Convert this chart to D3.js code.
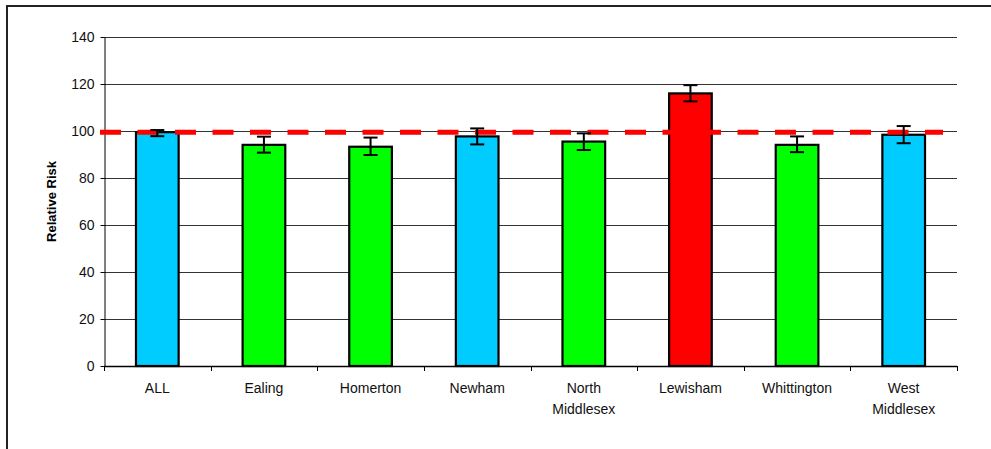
<!DOCTYPE html>
<html>
<head>
<meta charset="utf-8">
<script src="https://cdn.jsdelivr.net/npm/d3@7"></script>
<style>
  body { margin: 0; background: #fff; }
  svg { display: block; font-family: "Liberation Sans", Arial, sans-serif; }
</style>
</head>
<body>
<svg id="chart"></svg>
<script>
// data
const hospitals = ["ALL", "Ealing", "Homerton", "Newham", "North Middlesex", "Lewisham", "Whittington", "West Middlesex"];
const relativeRisk = [99.5, 94.1, 93.3, 97.7, 95.5, 116.0, 94.1, 98.4];
const ciLower = [97.8, 90.8, 89.8, 94.3, 91.9, 112.6, 91.0, 94.8];
const ciUpper = [100.4, 97.6, 97.2, 101.1, 99.0, 119.5, 97.7, 102.1];
const barGroup = ["blue", "green", "green", "blue", "green", "red", "green", "blue"];
const yTicks = [0, 20, 40, 60, 80, 100, 120, 140];
const referenceLevel = 99.5;

const width = 991, height = 449;
const margin = { top: 37, right: 34, bottom: 83, left: 104 };

const svg = d3.select("#chart")
    .attr("width", width)
    .attr("height", height);

// outer chart frame (cut off at right/bottom like the original)
svg.append("path")
    .attr("d", `M7,${height + 2}V6H${width + 2}`)
    .attr("fill", "none")
    .attr("stroke", "#222")
    .attr("stroke-width", 2);

const x = d3.scaleBand()
    .domain(hospitals)
    .range([margin.left, width - margin.right])
    .paddingInner(0.6)
    .paddingOuter(0.3);

// band boundaries for ticks
const step = x.step();
const x0 = margin.left;

const y = d3.scaleLinear()
    .domain([0, 140])
    .range([height - margin.bottom, margin.top]);

const color = d3.scaleOrdinal()
    .domain(["blue", "green", "red"])
    .range(["#00CCFF", "#00FF00", "#FF0000"]);

// gridlines
svg.append("g")
    .selectAll("line")
    .data(yTicks.filter(d => d > 0))
    .join("line")
    .attr("x1", margin.left)
    .attr("x2", width - margin.right)
    .attr("y1", d => Math.round(y(d)) + 0.5)
    .attr("y2", d => Math.round(y(d)) + 0.5)
    .attr("stroke", "#333")
    .attr("stroke-width", 1);

// y axis
const yAxis = svg.append("g")
    .attr("transform", `translate(${margin.left + 0.5},0)`)
    .call(d3.axisLeft(y).tickValues(yTicks).tickSize(4).tickSizeOuter(0).tickPadding(6));
yAxis.selectAll("line, path").attr("stroke", "#000");
yAxis.selectAll("text")
    .attr("font-size", 14)
    .attr("fill", "#111")
    .attr("font-family", "Liberation Sans, Arial, sans-serif");

// y axis title
svg.append("text")
    .attr("transform", `translate(56,${y(70)}) rotate(-90)`)
    .attr("text-anchor", "middle")
    .attr("font-size", 13)
    .attr("font-weight", "bold")
    .text("Relative Risk");

// bars
const bars = hospitals.map((h, i) => ({ name: h, value: relativeRisk[i], lo: ciLower[i], hi: ciUpper[i], group: barGroup[i] }));

svg.append("g")
    .selectAll("rect")
    .data(bars)
    .join("rect")
    .attr("x", d => x(d.name))
    .attr("y", d => y(d.value))
    .attr("width", x.bandwidth())
    .attr("height", d => y(0) - y(d.value))
    .attr("fill", d => color(d.group))
    .attr("stroke", "#000")
    .attr("stroke-width", 2.2);

// x axis baseline and ticks at category boundaries
svg.append("line")
    .attr("x1", margin.left)
    .attr("x2", width - margin.right)
    .attr("y1", y(0) + 0.5)
    .attr("y2", y(0) + 0.5)
    .attr("stroke", "#000")
    .attr("stroke-width", 1.5);

svg.append("g")
    .selectAll("line")
    .data(d3.range(hospitals.length + 1))
    .join("line")
    .attr("x1", i => Math.round(x0 + i * step) + 0.5)
    .attr("x2", i => Math.round(x0 + i * step) + 0.5)
    .attr("y1", y(0))
    .attr("y2", y(0) + 5)
    .attr("stroke", "#000");

// category labels (two lines where the original wraps)
svg.append("g")
    .selectAll("text")
    .data(hospitals)
    .join("text")
    .attr("text-anchor", "middle")
    .attr("font-size", 14)
    .attr("fill", "#111")
    .attr("x", d => x(d) + x.bandwidth() / 2)
    .attr("y", y(0) + 27)
    .each(function (d) {
        const parts = d.includes("Middlesex") ? d.split(" ") : [d];
        const cx = x(d) + x.bandwidth() / 2;
        d3.select(this).selectAll("tspan")
            .data(parts)
            .join("tspan")
            .attr("x", cx)
            .attr("dy", (p, i) => i === 0 ? 0 : 21)
            .text(p => p);
    });

// red dashed reference line
svg.append("line")
    .attr("x1", margin.left - 4)
    .attr("x2", width - margin.right - 14)
    .attr("y1", y(referenceLevel))
    .attr("y2", y(referenceLevel))
    .attr("stroke", "#FF0000")
    .attr("stroke-width", 5)
    .attr("stroke-dasharray", "21,16.5");

// error bars
const err = svg.append("g")
    .attr("stroke", "#000")
    .attr("stroke-width", 2);

err.selectAll(".stem")
    .data(bars)
    .join("line")
    .attr("class", "stem")
    .attr("x1", d => x(d.name) + x.bandwidth() / 2)
    .attr("x2", d => x(d.name) + x.bandwidth() / 2)
    .attr("y1", d => y(d.hi))
    .attr("y2", d => y(d.lo));

err.selectAll(".cap")
    .data(bars.flatMap(d => [{ name: d.name, v: d.hi }, { name: d.name, v: d.lo }]))
    .join("line")
    .attr("class", "cap")
    .attr("x1", d => x(d.name) + x.bandwidth() / 2 - 7)
    .attr("x2", d => x(d.name) + x.bandwidth() / 2 + 7)
    .attr("y1", d => y(d.v))
    .attr("y2", d => y(d.v));
</script>
</body>
</html>
